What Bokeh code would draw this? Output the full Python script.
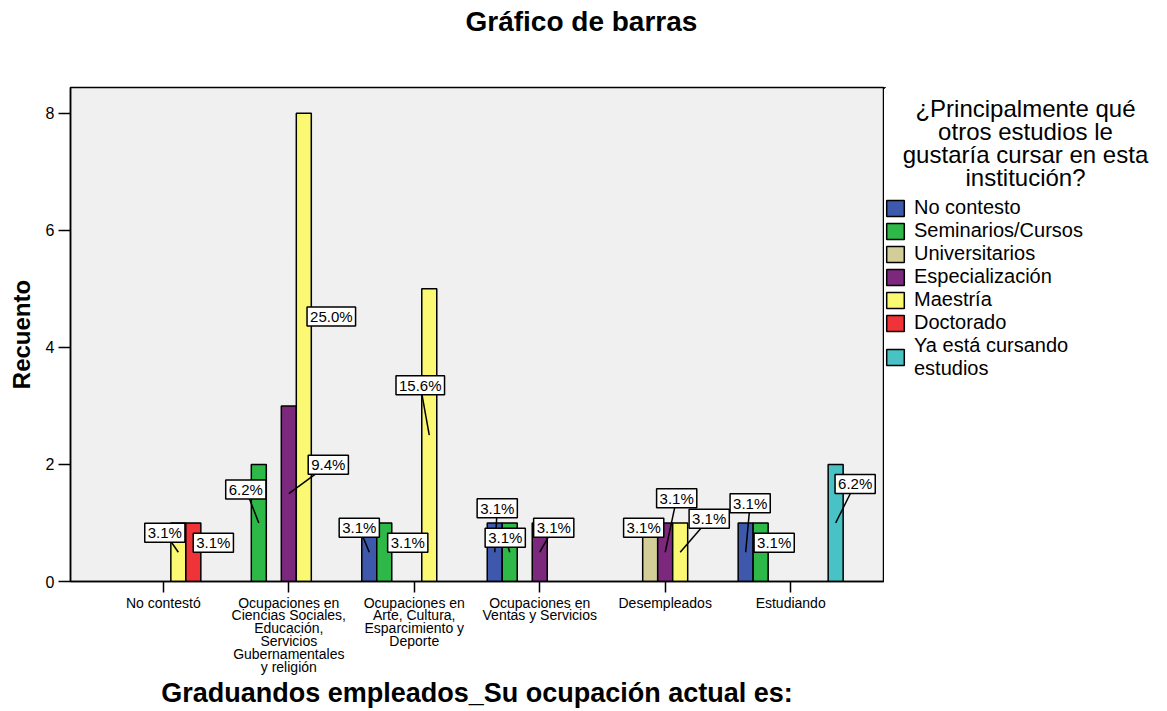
from bokeh.plotting import figure
from bokeh.models import Range1d, FixedTicker, Label, Legend, LegendItem, Title
from bokeh.layouts import row
from bokeh.core.properties import value
from bokeh.embed import file_html
from bokeh.resources import INLINE

# ---------------- data ----------------
categories = [
    "No contestó",
    "Ocupaciones en\nCiencias Sociales,\nEducación,\nServicios\nGubernamentales\ny religión",
    "Ocupaciones en\nArte, Cultura,\nEsparcimiento y\nDeporte",
    "Ocupaciones en\nVentas y Servicios",
    "Desempleados",
    "Estudiando",
]
series_names = [
    "No contesto",
    "Seminarios/Cursos",
    "Universitarios",
    "Especialización",
    "Maestría",
    "Doctorado",
    "Ya está cursando\nestudios",
]
no_contesto = [0, 0, 1, 1, 0, 1]
seminarios_cursos = [0, 2, 1, 1, 0, 1]
universitarios = [0, 0, 0, 0, 1, 0]
especializacion = [0, 3, 0, 1, 1, 0]
maestria = [1, 8, 5, 0, 1, 0]
doctorado = [1, 0, 0, 0, 0, 0]
ya_cursando = [0, 0, 0, 0, 0, 2]
series_counts = [no_contesto, seminarios_cursos, universitarios, especializacion,
                 maestria, doctorado, ya_cursando]
y_ticks = [0, 2, 4, 6, 8]

title_text = "Gráfico de barras"
x_title = "Graduandos empleados_Su ocupación actual es:"
y_title = "Recuento"
legend_title_lines = ["¿Principalmente qué", "otros estudios le",
                      "gustaría cursar en esta", "institución?"]

# ---------------- style / layout ----------------
colors = ["#3E58AC", "#2EB848", "#D3CE97", "#7C287D", "#FBF873", "#EF3338", "#48C2C5"]
FONT = "Liberation Sans"
H = 711
W1 = 884                      # chart figure
W2 = 1151 - W1                # legend figure
FRAME_L, FRAME_R, FRAME_T, FRAME_B = 70, 883, 87, 581
X0, X1 = -0.74, 5.74
Y0, Y1 = 0.0, 8.44
SX = (FRAME_R - FRAME_L) / (X1 - X0)   # px per x unit
SY = (FRAME_B - FRAME_T) / (Y1 - Y0)   # px per y unit
BAR_PX = 15.0
bw = BAR_PX / SX

# label box offsets (px, box centre relative to bar mid-point), leader visible?
label_layout = {
    (0, 4): (-13.5, 19.5, True), (0, 5): (20, 9.5, False),
    (1, 1): (-13, 33.5, True), (1, 3): (39.5, 29, True), (1, 4): (27.5, 31, False),
    (2, 0): (-10, 24.5, True), (2, 1): (23.5, 9.5, False), (2, 4): (-9, 50, True),
    (3, 0): (2.5, 44, True), (3, 1): (-4.5, 14.5, True), (3, 3): (14, 24.5, True),
    (4, 2): (-6.5, 24.5, False), (4, 3): (11.5, 54, True), (4, 4): (29, 33.5, True),
    (5, 0): (4.5, 49, True), (5, 1): (13.5, 9.5, False), (5, 6): (19.5, 39, True),
}

p = figure(width=W1, height=H, output_backend="svg", toolbar_location=None,
           x_range=Range1d(X0, X1), y_range=Range1d(Y0, Y1),
           min_border_left=FRAME_L, min_border_right=W1 - FRAME_R,
           min_border_top=FRAME_T, min_border_bottom=H - FRAME_B)
p.title = None
p.background_fill_color = "#F0F0F0"
p.border_fill_color = "white"
p.outline_line_color = "black"
p.outline_line_width = 1.5
p.xgrid.visible = False
p.ygrid.visible = False

# spacer (closest to frame) then the main title above it
p.add_layout(Title(text="\u00a0", standoff=48, text_font_size="1px"), "above")
p.add_layout(Title(text=title_text, align="left", offset=395, standoff=0, vertical_align="bottom",
                   text_font=FONT, text_font_size="28px", text_font_style="bold",
                   text_color="black"), "above")

total = sum(sum(s) for s in series_counts)
bar_data = []
for i, (name, counts, col) in enumerate(zip(series_names, series_counts, colors)):
    xs = [c + (i - 3) * bw for c, v in enumerate(counts) if v > 0]
    tops = [v for v in counts if v > 0]
    bar_data.append((xs, tops))
    p.vbar(x=xs, top=tops, bottom=0, width=bw, fill_color=col,
           line_color="black", line_width=1.5)

# percentage labels with leader lines
seg_x0, seg_y0, seg_x1, seg_y1 = [], [], [], []
labels = []
for i, counts in enumerate(series_counts):
    for c, v in enumerate(counts):
        if v <= 0:
            continue
        ax = c + (i - 3) * bw
        ay = v / 2.0
        dx, dy, lead = label_layout[(c, i)]
        if lead:
            seg_x0.append(ax); seg_y0.append(ay)
            seg_x1.append(ax + dx / SX); seg_y1.append(ay + dy / SY)
        labels.append(Label(x=ax, y=ay, x_offset=dx, y_offset=dy,
                            text=f"{100.0 * v / total:.1f}%",
                            text_font=FONT, text_font_size="15px", text_color="black",
                            text_align="center", text_baseline="middle",
                            background_fill_color="white",
                            border_line_color="black", border_line_width=1.5,
                            padding=dict(left=3, right=3, top=1, bottom=1)))
p.segment(x0=seg_x0, y0=seg_y0, x1=seg_x1, y1=seg_y1, line_color="black", line_width=1.5)
for lb in labels:
    p.add_layout(lb)

# axes
p.xaxis.ticker = FixedTicker(ticks=list(range(len(categories))))
p.xaxis.major_label_overrides = {i: c for i, c in enumerate(categories)}
p.yaxis.ticker = FixedTicker(ticks=y_ticks)
for ax in (p.xaxis[0], p.yaxis[0]):
    ax.axis_line_color = "black"
    ax.axis_line_width = 1.5
    ax.major_tick_line_color = "black"
    ax.major_tick_line_width = 1.5
    ax.major_tick_in = 0
    ax.minor_tick_line_color = None
    ax.major_label_text_font = FONT
    ax.major_label_text_color = "black"
    ax.axis_label_text_font = FONT
    ax.axis_label_text_font_style = "bold"
    ax.axis_label_text_color = "black"
p.xaxis.major_tick_out = 11
p.xaxis.major_label_text_font_size = "14px"
p.xaxis.major_label_text_line_height = 0.8
p.xaxis.major_label_standoff = 2
p.xaxis.axis_label = x_title
p.xaxis.axis_label_text_font_size = "27px"
p.xaxis.axis_label_standoff = 0
p.yaxis.major_tick_out = 12
p.yaxis.major_label_text_font_size = "16px"
p.yaxis.major_label_standoff = 4
p.yaxis.axis_label = y_title
p.yaxis.axis_label_text_font_size = "24px"
p.yaxis.axis_label_standoff = 8

# ---------------- legend panel (separate figure to the right) ----------------
# its frame is aligned with the chart frame vertically (87..581); data units = pixels
q = figure(width=W2, height=H, output_backend="svg", toolbar_location=None,
           x_range=Range1d(W1, W1 + W2), y_range=Range1d(FRAME_B, FRAME_T),
           x_axis_location=None, y_axis_location=None,
           min_border=0, min_border_left=0, min_border_right=0,
           min_border_top=FRAME_T, min_border_bottom=H - FRAME_B)
q.title = None
q.outline_line_color = None
q.background_fill_color = "white"
q.border_fill_color = "white"
q.xgrid.visible = False
q.ygrid.visible = False

# same bars, in this figure's (pixel) coordinates they fall outside the view; they only feed the legend
legend_renderers = [q.vbar(x=xs, top=tops, bottom=0, width=bw, fill_color=col, line_color="black",
                           line_width=1.5) for (xs, tops), col in zip(bar_data, colors)]

q.text(x=[1025] * len(legend_title_lines), y=[108 + 23 * k for k in range(len(legend_title_lines))],
       text=legend_title_lines, text_align="center", text_baseline="middle",
       text_font=value(FONT), text_font_size=value("24px"), text_color="black")

legend = Legend(items=[LegendItem(label=n, renderers=[r]) for n, r in zip(series_names, legend_renderers)],
                location=(0, 201), orientation="vertical",
                glyph_width=22, glyph_height=20, label_height=20, label_standoff=8,
                spacing=0, padding=0, margin=0, border_line_color=None,
                background_fill_alpha=0, label_text_font=FONT, label_text_font_size="20px",
                label_text_line_height=1.0, label_text_color="black")
q.add_layout(legend)

open("out.html", "w").write(file_html(row(p, q), INLINE))
